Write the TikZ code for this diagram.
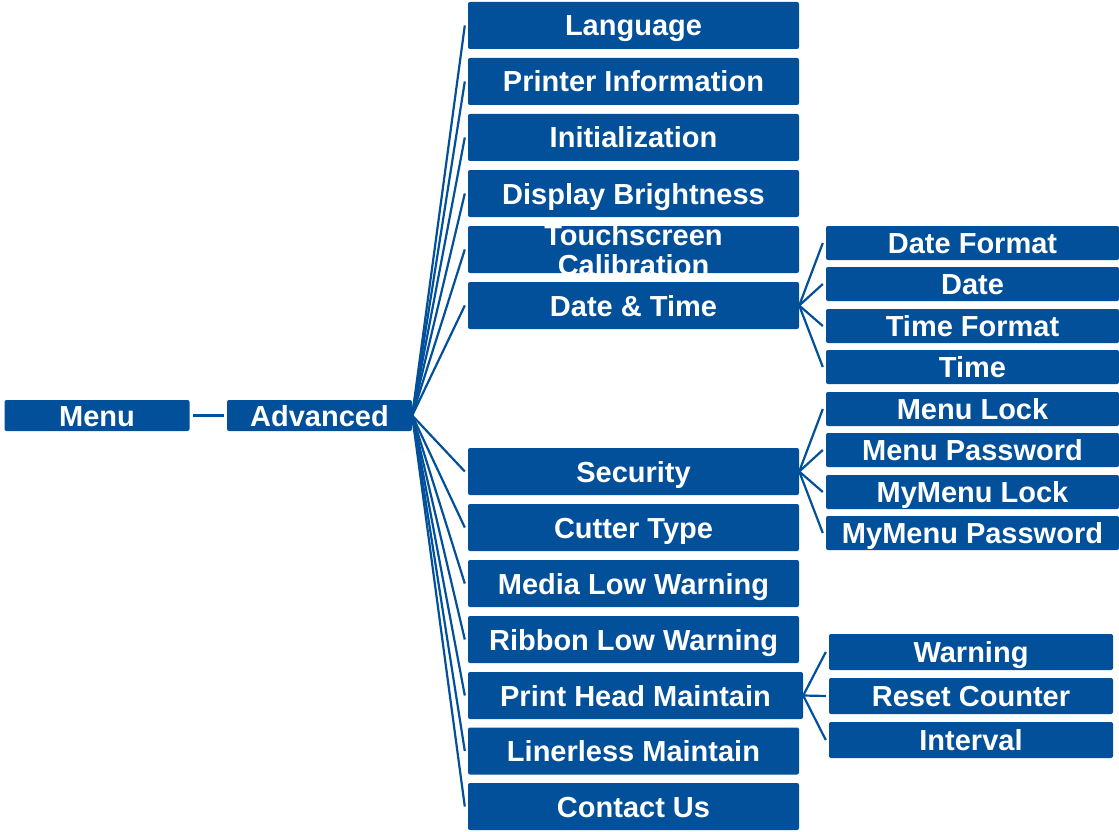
\documentclass[tikz,border=0pt]{standalone}
\usepackage{fontspec}
\setmainfont{Liberation Sans}
\definecolor{boxblue}{RGB}{2,80,154}
\begin{document}
\begin{tikzpicture}[x=1pt,y=-1pt,
  bx/.style={fill=boxblue, rounded corners=2pt, text=white, inner sep=0pt,
    text height=21pt, text depth=0pt,
    font=\bfseries\fontsize{29}{30}\selectfont},
  l1/.style={bx, minimum width=185pt, minimum height=31pt},
  l2/.style={bx, minimum width=331pt, minimum height=47pt},
  l3/.style={bx, minimum width=293pt, minimum height=34pt},
  l3b/.style={bx, minimum width=284pt, minimum height=36pt},
  conn/.style={draw=boxblue, line width=2.2pt}]
\useasboundingbox (0,0) rectangle (1119,832);
% level 1
\node[l1] (menu) at (97,415.5) {Menu};
\node[l1] (adv) at (319.5,415.5) {Advanced};
% level 2
\node[l2] (lang) at (633.5,25.5) {Language};
\node[l2] (pinfo) at (633.5,81.5) {Printer Information};
\node[l2] (init) at (633.5,137.5) {Initialization};
\node[l2] (disp) at (633.5,193.5) {Display Brightness};
\node[l2] (touch) at (633.5,249.5) {};
\node[text=white, align=center, inner sep=0pt, font=\bfseries\fontsize{29}{29.5}\selectfont] (touchtext) at (633.5,250) {Touchscreen\\Calibration};
\node[l2] (dt) at (633.5,305.5) {Date \& Time};
\node[l2] (sec) at (633.5,471.5) {Security};
\node[l2] (cut) at (633.5,527.5) {Cutter Type};
\node[l2] (media) at (633.5,583.5) {Media Low Warning};
\node[l2] (ribbon) at (633.5,639.5) {Ribbon Low Warning};
\node[l2, minimum width=335pt] (phead) at (635.5,695.5) {Print Head Maintain};
\node[l2] (liner) at (633.5,751) {Linerless Maintain};
\node[l2] (contact) at (633.5,806.5) {Contact Us};
% level 3 date & time
\node[l3] (dfmt) at (972.5,243) {Date Format};
\node[l3] (date) at (972.5,284) {Date};
\node[l3] (tfmt) at (972.5,326) {Time Format};
\node[l3] (time) at (972.5,367) {Time};
% level 3 security
\node[l3] (mlock) at (972.5,409) {Menu Lock};
\node[l3] (mpass) at (972.5,450) {Menu Password};
\node[l3] (mylock) at (972.5,492) {MyMenu Lock};
\node[l3] (mypass) at (972.5,533) {MyMenu Password};
% level 3 print head
\node[l3b] (warn) at (971,652) {Warning};
\node[l3b] (reset) at (971,696) {Reset Counter};
\node[l3b] (interval) at (971,740) {Interval};
% connectors
\draw[conn] ([xshift=3pt]menu.east) -- ([xshift=-3pt]adv.west);
\foreach \c in {lang,pinfo,init,disp,touch,dt,sec,cut,media,ribbon,phead,liner,contact}
  \draw[conn] (adv.east) -- ([xshift=-3pt]\c.west);
\foreach \c in {dfmt,date,tfmt,time}
  \draw[conn] (dt.east) -- ([xshift=-3pt]\c.west);
\foreach \c in {mlock,mpass,mylock,mypass}
  \draw[conn] (sec.east) -- ([xshift=-3pt]\c.west);
\foreach \c in {warn,reset,interval}
  \draw[conn] (phead.east) -- ([xshift=-3pt]\c.west);
\end{tikzpicture}
\end{document}
